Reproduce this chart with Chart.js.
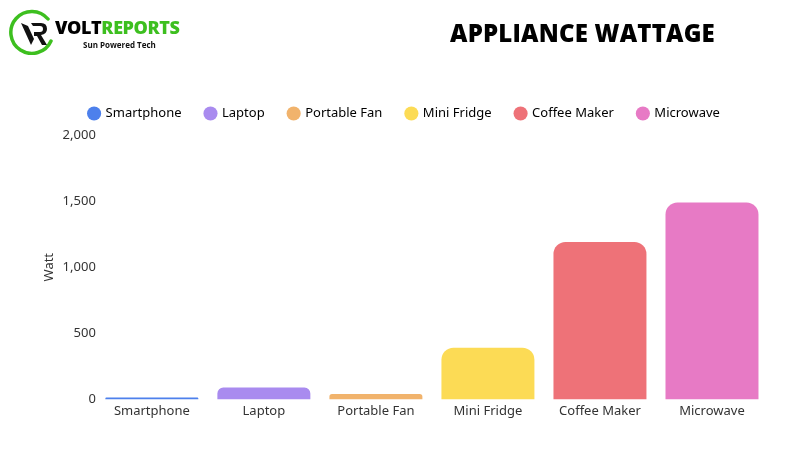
<!DOCTYPE html>
<html>
<head>
<meta charset="utf-8">
<script src="https://cdn.jsdelivr.net/npm/chart.js@4"></script>
<style>
    body { margin: 0; background: #fff; }
    #wrap { position: relative; width: 800px; height: 450px; overflow: hidden; }
    #chart { position: absolute; left: 0; top: 0; }
    .title {
        position: absolute; left: 450px; top: 16px; width: 268px;
        font-family: 'Open Sans', sans-serif; font-weight: 800; font-size: 24px;
        color: #000; white-space: nowrap; letter-spacing: 0.2px;
    }
    .logo { position: absolute; left: 8px; top: 9px; width: 50px; height: 46px; }
    .brand {
        position: absolute; left: 55px; top: 15px;
        font-family: 'Open Sans', sans-serif; font-weight: 800; font-size: 18px; letter-spacing: -0.4px;
    }
    .brand .g { color: #3dbf1f; }
    .tag {
        position: absolute; left: 83px; top: 39px;
        font-family: 'Open Sans', sans-serif; font-weight: 700; font-size: 8px; color: #111;
    }
</style>
</head>
<body>
<div id="wrap">
    <canvas id="chart" width="800" height="450"></canvas>
    <svg class="logo" viewBox="0 0 50 46">
        <path d="M 40 10 A 21 21 0 1 0 43 32" fill="none" stroke="#3dbf1f" stroke-width="3.5" stroke-linecap="round"/>
        <path d="M 13 14 L 23 36 L 26 30 L 20 17 Z" fill="#111"/>
        <path d="M 23 14 L 33 14 Q 39 14 39 20 Q 39 25 33 26 L 39 36 L 34 36 L 29 27 L 26 27 L 26 23 L 32 23 Q 35 23 35 20 Q 35 17 32 17 L 25 17 Z" fill="#111"/>
    </svg>
    <div class="brand">VOLT<span class="g">REPORTS</span></div>
    <div class="tag">Sun Powered Tech</div>
    <div class="title">APPLIANCE WATTAGE</div>
</div>
<script>
    const appliances = ['Smartphone', 'Laptop', 'Portable Fan', 'Mini Fridge', 'Coffee Maker', 'Microwave'];
    const watts = [15, 90, 40, 390, 1190, 1490];
    const barColors = ['#4d80ec', '#a98bef', '#f1b36c', '#fcdb55', '#ee7278', '#e77ac5'];
    const yTicks = [0, 500, 1000, 1500, 2000];

    const fontFamily = "'Noto Sans', sans-serif";
    Chart.defaults.font.family = fontFamily;
    Chart.defaults.color = '#333';

    // a little extra room under the legend
    const legendGap = {
        id: 'legendGap',
        beforeInit(chart) {
            const fit = chart.legend.fit;
            chart.legend.fit = function () {
                fit.bind(chart.legend)();
                this.height += 5;
            };
        }
    };

    const ctx = document.getElementById('chart');
    new Chart(ctx, {
        type: 'bar',
        data: {
            labels: appliances,
            datasets: [{
                label: 'Watt',
                data: watts,
                backgroundColor: barColors,
                borderRadius: { topLeft: 12, topRight: 12 },
                borderSkipped: 'bottom',
                barPercentage: 0.83,
                categoryPercentage: 1
            }]
        },
        options: {
            responsive: false,
            animation: false,
            layout: { padding: { top: 83, left: 41, right: 32, bottom: 27 } },
            plugins: {
                legend: {
                    position: 'top',
                    labels: {
                        usePointStyle: true,
                        pointStyle: 'circle',
                        boxWidth: 10,
                        boxHeight: 10,
                        padding: 24,
                        font: { size: 13 },
                        color: '#333',
                        generateLabels: () => appliances.map((name, i) => ({
                            text: name,
                            fillStyle: barColors[i],
                            strokeStyle: barColors[i],
                            lineWidth: 0,
                            pointStyle: 'circle',
                            hidden: false,
                            index: i
                        }))
                    },
                    onClick: () => {}
                },
                tooltip: { enabled: false }
            },
            scales: {
                x: {
                    grid: { display: false, drawTicks: false },
                    border: { display: false },
                    ticks: { font: { size: 13 }, color: '#333', padding: 4 }
                },
                y: {
                    min: 0,
                    max: 2000,
                    afterBuildTicks: axis => { axis.ticks = yTicks.map(v => ({ value: v })); },
                    grid: { display: false, drawTicks: false },
                    border: { display: false },
                    ticks: {
                        font: { size: 13 },
                        color: '#333',
                        padding: 0,
                        callback: v => v.toLocaleString('en-US')
                    },
                    title: {
                        display: true,
                        text: 'Watt',
                        font: { size: 13 },
                        color: '#333',
                        padding: { top: 0, bottom: 6 }
                    }
                }
            }
        },
        plugins: [legendGap]
    });
</script>
</body>
</html>
